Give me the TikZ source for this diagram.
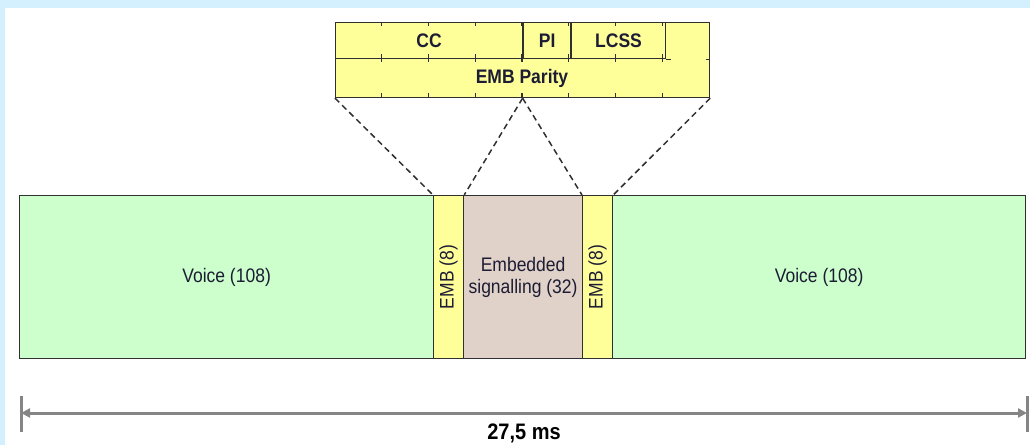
\documentclass[tikz,border=0pt]{standalone}
\usepackage{fontspec}
\usepackage{graphicx}
\setmainfont{Liberation Sans}
\usetikzlibrary{arrows.meta}
\definecolor{framebg}{HTML}{D4F0FF}
\definecolor{voicegreen}{HTML}{CCFFCC}
\definecolor{embyellow}{HTML}{FFFF99}
\definecolor{sigbrown}{HTML}{E0D2C8}
\definecolor{edge}{HTML}{303030}
\definecolor{ink}{HTML}{1C1C34}
\definecolor{dimgrey}{HTML}{858585}
% slightly tall lettering
\newcommand{\tallbox}[1]{\scalebox{1}[1.12]{#1}}
\tikzset{
  field/.style={draw=edge, line width=1.2pt, inner sep=0pt, anchor=north west,
    text=ink, font=\fontsize{17.5}{22}\selectfont, align=center},
  bitlabel/.style={inner sep=0pt, text=ink, font=\fontsize{17.5}{21}\selectfont\bfseries},
  tick/.style={draw=edge, line width=1.2pt},
  zoomline/.style={draw=edge, line width=1.5pt, dash pattern=on 6pt off 4pt},
  dimline/.style={draw=dimgrey, line width=3pt},
}
\begin{document}
\begin{tikzpicture}[x=1pt,y=-1pt]
\useasboundingbox (0,0) rectangle (1030,445);
% page frame
\fill[framebg] (0,0) rectangle (1030,8);
\fill[framebg] (0,0) rectangle (5,445);

% burst layout
\node[field, fill=voicegreen, minimum width=414pt, minimum height=163pt] (voiceL) at (19,195) {\tallbox{Voice (108)}};
\node[field, fill=embyellow, minimum width=30pt, minimum height=163pt] (embL) at (433,195) {\rotatebox{90}{\tallbox{EMB (8)}}};
\node[field, fill=sigbrown, minimum width=119pt, minimum height=163pt] (sig) at (463,195) {\tallbox{Embedded}\\\tallbox{signalling (32)}};
\node[field, fill=embyellow, minimum width=30pt, minimum height=163pt] (embR) at (582,195) {\rotatebox{90}{\tallbox{EMB (8)}}};
\node[field, fill=voicegreen, minimum width=413pt, minimum height=163pt] (voiceR) at (612,195) {\tallbox{Voice (108)}};

% EMB field structure
\node[field, fill=embyellow, minimum width=374pt, minimum height=75pt] (emb) at (335,22) {};
\node[field, minimum width=187pt, minimum height=36pt] (cc) at (335,22) {};
\node[bitlabel] at (cc.center) {\tallbox{CC}};
\node[field, minimum width=46.75pt, minimum height=36pt] (pi) at (cc.north east) {};
\node[bitlabel] at (pi.center) {\tallbox{PI}};
\node[field, minimum width=93.5pt, minimum height=36pt] (lcss) at (pi.north east) {};
\node[bitlabel] at (lcss.center) {\tallbox{LCSS}};
\draw[tick] (lcss.south east) -- ++(5,0);
\draw[tick] (emb.east |- lcss.south) -- ++(-4,0);
\node[bitlabel] (parity) at (522,78) {\tallbox{EMB Parity}};
\foreach \k in {1,...,7} {
  \pgfmathsetmacro{\bx}{335+\k*46.75}
  \draw[tick] (\bx,22) -- (\bx,26);
  \draw[tick] (\bx,54) -- (\bx,62);
  \draw[tick] (\bx,97) -- (\bx,93);
}

% zoom connectors
\draw[zoomline] (emb.south west) -- (embL.north west);
\draw[zoomline] (emb.south) -- (embL.north east);
\draw[zoomline] (emb.south) -- (embR.north west);
\draw[zoomline] (emb.south east) -- (embR.north east);

% duration
\coordinate (dl) at (21,413);
\coordinate (dr) at (1027,413);
\draw[dimline] (21,396) -- (21,432);
\draw[dimline] (1027,396) -- (1027,432);
\draw[dimline, {Triangle[length=9pt,width=9pt]}-{Triangle[length=9pt,width=9pt]}] (dl) -- (dr);
\node[inner sep=0pt, font=\fontsize{20}{22}\selectfont\bfseries] (dur) at (524,433) {\tallbox{27,5 ms}};
\end{tikzpicture}
\end{document}
